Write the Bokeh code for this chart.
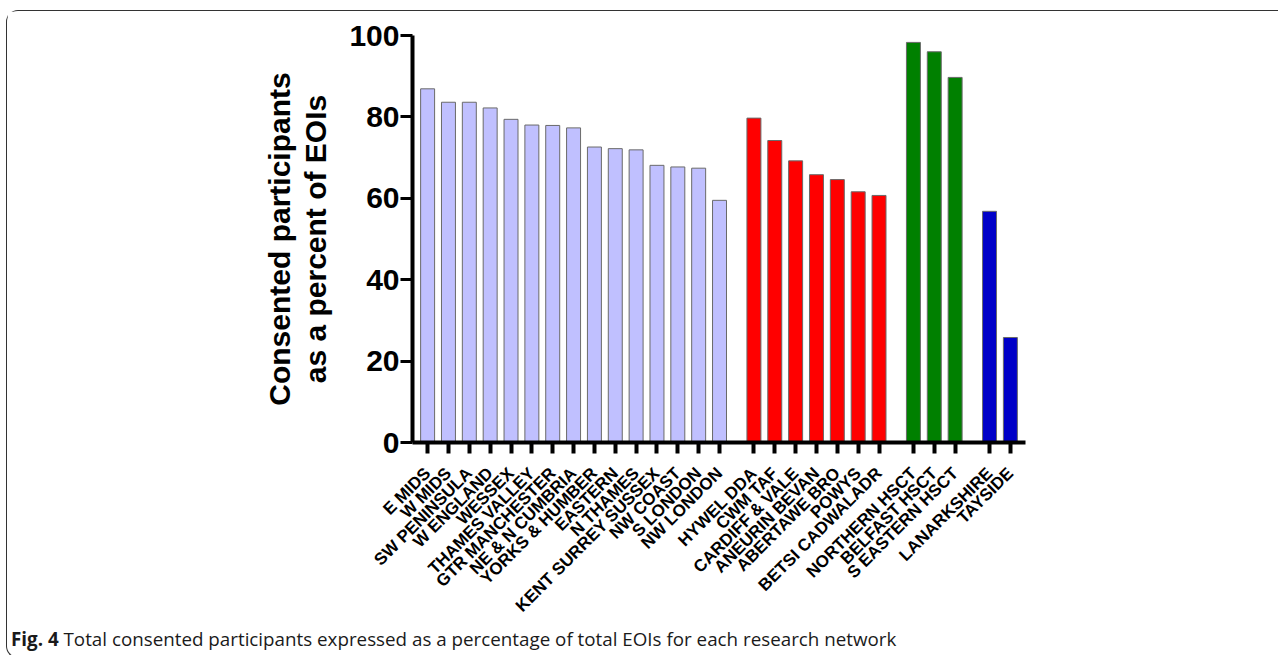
import math
from bokeh.plotting import figure
from bokeh.models import FactorRange, Range1d, ColumnDataSource, Div
from bokeh.layouts import column
from bokeh.embed import file_html
from bokeh.resources import INLINE

# ---- data ----
england_names = ["E MIDS", "W MIDS", "SW PENINSULA", "W ENGLAND", "WESSEX", "THAMES VALLEY",
                 "GTR MANCHESTER", "NE & N CUMBRIA", "YORKS & HUMBER", "EASTERN", "N THAMES",
                 "KENT SURREY SUSSEX", "NW COAST", "S LONDON", "NW LONDON"]
england_values = [86.9, 83.6, 83.6, 82.2, 79.4, 78.0, 77.9, 77.3, 72.6, 72.2, 71.9, 68.1, 67.7, 67.4, 59.5]

wales_names = ["HYWEL DDA", "CWM TAF", "CARDIFF & VALE", "ANEURIN BEVAN", "ABERTAWE BRO",
               "POWYS", "BETSI CADWALADR"]
wales_values = [79.7, 74.2, 69.2, 65.8, 64.6, 61.6, 60.7]

ni_names = ["NORTHERN HSCT", "BELFAST HSCT", "S EASTERN HSCT"]
ni_values = [98.3, 96.0, 89.7]

scotland_names = ["LANARKSHIRE", "TAYSIDE"]
scotland_values = [56.8, 25.8]

group_keys = ["England", "Wales", "Northern Ireland", "Scotland"]
group_colors = ["#C0C0FF", "#FF0000", "#008000", "#0000C8"]
y_ticks = [0, 20, 40, 60, 80, 100]

y_label = "Consented participants\nas a percent of EOIs"
caption_bold = "Fig. 4"
caption_text = "Total consented participants expressed as a percentage of total EOIs for each research network"

# ---- build ----
groups = [(england_names, england_values), (wales_names, wales_values),
          (ni_names, ni_values), (scotland_names, scotland_values)]
xs, tops, colors = [], [], []
for key, color, (names, vals) in zip(group_keys, group_colors, groups):
    for n, v in zip(names, vals):
        xs.append((key, n))
        tops.append(v)
        colors.append(color)

source = ColumnDataSource(data=dict(x=xs, top=tops, color=colors))

x_range = FactorRange(*xs, group_padding=0.65, range_padding=0.225,
                      range_padding_units="absolute")

W, H = 1262, 621
left_b, top_b, fw, fh = 405, 24, 613, 407
p = figure(x_range=x_range, y_range=Range1d(0, 100), width=W, height=H,
           output_backend="svg", toolbar_location=None,
           min_border_left=left_b, min_border_right=W - left_b - fw,
           min_border_top=top_b, min_border_bottom=H - top_b - fh)
p.outline_line_color = None
p.xgrid.visible = False
p.ygrid.visible = False
p.background_fill_color = "white"
p.border_fill_color = "white"

p.vbar(x="x", top="top", width=0.67, source=source, fill_color="color",
       line_color="#6A6A6A", line_width=1)

ya = p.yaxis[0]
ya.ticker = y_ticks
ya.axis_line_width = 4
ya.axis_line_color = "black"
ya.major_tick_line_width = 3
ya.major_tick_out = 12
ya.major_tick_in = 0
ya.minor_tick_line_color = None
ya.major_label_standoff = 1
ya.major_label_text_font = "Liberation Sans"
ya.major_label_text_font_style = "bold"
ya.major_label_text_font_size = "30px"
ya.major_label_text_color = "black"
ya.axis_label = y_label
ya.axis_label_text_font = "Liberation Sans"
ya.axis_label_text_font_style = "bold"
ya.axis_label_text_font_size = "30px"
ya.axis_label_text_color = "black"
ya.axis_label_standoff = 14
ya.axis_label_text_line_height = 1.1

xa = p.xaxis[0]
xa.axis_line_width = 4
xa.axis_line_color = "black"
xa.major_tick_line_width = 4
xa.major_tick_out = 11
xa.major_tick_in = 0
xa.minor_tick_line_color = None
xa.major_label_orientation = math.pi / 4
xa.major_label_standoff = 17
xa.major_label_text_font = "Liberation Sans"
xa.major_label_text_font_style = "bold"
xa.major_label_text_font_size = "17px"
xa.major_label_text_color = "black"
xa.group_text_alpha = 0
xa.group_text_font_size = "1px"
xa.separator_line_alpha = 0

caption = Div(text=f"<b>{caption_bold}</b> {caption_text}", width=W, height=26,
              styles={"font-family": "'Open Sans', sans-serif", "font-size": "18.8px",
                      "color": "#1a1a1a", "margin-top": "-6px", "margin-left": "4px",
                      "white-space": "nowrap"})

layout = column(p, caption, spacing=0,
                styles={"border": "1.5px solid #333333", "border-right": "none",
                        "border-radius": "12px 0 0 12px", "margin-left": "6px",
                        "margin-top": "10px", "background": "white"})

open("out.html", "w").write(file_html(layout, INLINE))
